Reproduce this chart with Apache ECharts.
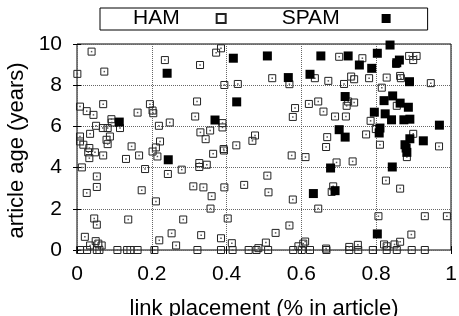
<!DOCTYPE html>
<html>
<head>
<meta charset="utf-8">
<script src="https://cdn.jsdelivr.net/npm/echarts@6/dist/echarts.min.js"></script>
<style>
html, body { margin: 0; padding: 0; background: #fff; }
#chart { width: 459px; height: 316px; }
</style>
</head>
<body>
<div id="chart"></div>
<script>
// link placement (fraction of article) vs article age (years)
var hamPoints = [
    [0.039, 9.63], [0.235, 9.22], [0.001, 8.55], [0.073, 8.66], [0.329, 8.98],
    [0.070, 7.08], [0.195, 7.08], [0.008, 6.96], [0.026, 6.74], [0.044, 6.56],
    [0.162, 6.67], [0.202, 6.77], [0.204, 6.64], [0.321, 7.21], [0.316, 6.48],
    [0.092, 6.35], [0.093, 6.19], [0.115, 5.92], [0.051, 6.03], [0.069, 5.92],
    [0.082, 5.92], [0.035, 5.64], [0.008, 5.51], [0.088, 5.51], [0.079, 5.35],
    [0.082, 5.14], [0.219, 6.03], [0.248, 6.19], [0.222, 5.27], [0.211, 4.98],
    [0.146, 5.03], [0.008, 5.27], [0.017, 5.11], [0.033, 4.95], [0.330, 5.71],
    [0.385, 9.79], [0.372, 9.58], [0.522, 8.34], [0.568, 8.05], [0.636, 8.34],
    [0.394, 8.01], [0.430, 8.06], [0.583, 6.89], [0.620, 7.09], [0.645, 7.21],
    [0.577, 6.46], [0.389, 6.16], [0.389, 5.95], [0.356, 5.80], [0.344, 5.38],
    [0.476, 5.56], [0.469, 5.30], [0.426, 5.08], [0.392, 4.90], [0.701, 9.38],
    [0.763, 9.31], [0.853, 9.03], [0.888, 9.42], [0.908, 9.42], [0.899, 9.22],
    [0.733, 8.42], [0.741, 8.29], [0.781, 8.34], [0.828, 8.37], [0.864, 8.45],
    [0.866, 8.34], [0.672, 8.21], [0.714, 8.06], [0.815, 7.88], [0.946, 8.10],
    [0.725, 7.21], [0.741, 7.16], [0.721, 7.00], [0.855, 7.00], [0.659, 6.72],
    [0.690, 6.48], [0.719, 6.48], [0.785, 6.27], [0.799, 5.87], [0.773, 5.61],
    [0.669, 5.48], [0.899, 5.64], [0.810, 5.11], [0.968, 5.03], [0.666, 5.00],
    [0.030, 4.74], [0.033, 4.46], [0.048, 4.74], [0.070, 4.59], [0.131, 4.42],
    [0.166, 4.59], [0.202, 4.78], [0.215, 4.54], [0.013, 4.01], [0.182, 3.93],
    [0.280, 3.90], [0.243, 3.69], [0.053, 3.57], [0.053, 3.06], [0.026, 2.77],
    [0.173, 2.90], [0.311, 3.09], [0.211, 2.36], [0.046, 1.53], [0.053, 1.23],
    [0.137, 1.48], [0.284, 1.48], [0.021, 0.64], [0.050, 0.43], [0.057, 0.31],
    [0.066, 0.22], [0.035, 0.22], [0.253, 0.81], [0.220, 0.47], [0.265, 0.22],
    [0.327, 4.22], [0.327, 4.03], [0.347, 4.14], [0.393, 4.83], [0.364, 4.67],
    [0.574, 4.59], [0.611, 4.51], [0.509, 3.61], [0.338, 3.04], [0.394, 3.04],
    [0.447, 3.16], [0.360, 2.61], [0.512, 2.80], [0.577, 2.45], [0.357, 2.01],
    [0.645, 2.01], [0.403, 1.53], [0.568, 1.19], [0.531, 0.83], [0.332, 0.72],
    [0.385, 0.57], [0.414, 0.33], [0.505, 0.36], [0.610, 0.41], [0.605, 0.31],
    [0.592, 0.18], [0.485, 0.09], [0.882, 4.51], [0.694, 4.25], [0.737, 4.30],
    [0.826, 3.37], [0.864, 2.98], [0.685, 3.09], [0.681, 2.82], [0.806, 1.64],
    [0.930, 1.64], [0.989, 1.64], [0.894, 0.75], [0.751, 0.25], [0.728, 0.15],
    [0.821, 0.27], [0.828, 0.18], [0.849, 0.27], [0.864, 0.40], [0.666, 0.07],
    [0.008, 0], [0.027, 0], [0.053, 0], [0.060, 0], [0.108, 0],
    [0.134, 0], [0.143, 0], [0.162, 0], [0.207, 0], [0.322, 0],
    [0.385, 0], [0.416, 0], [0.459, 0], [0.480, 0], [0.511, 0],
    [0.578, 0], [0.601, 0], [0.623, 0], [0.667, 0], [0.728, 0],
    [0.752, 0], [0.791, 0], [0.828, 0], [0.855, 0], [0.895, 0],
    [0.930, 0]
];

var spamPoints = [
    [0.241, 8.58], [0.113, 6.21], [0.418, 9.31], [0.509, 9.42], [0.652, 9.42],
    [0.565, 8.37], [0.623, 8.53], [0.427, 7.19], [0.369, 6.31], [0.837, 9.95],
    [0.725, 9.42], [0.803, 9.55], [0.755, 8.98], [0.788, 8.82], [0.862, 9.22],
    [0.855, 9.09], [0.889, 8.17], [0.717, 7.45], [0.821, 7.25], [0.844, 7.48],
    [0.864, 7.13], [0.886, 6.93], [0.795, 6.69], [0.824, 6.61], [0.841, 6.32],
    [0.874, 6.32], [0.890, 6.35], [0.969, 6.06], [0.810, 5.92], [0.808, 5.68],
    [0.701, 5.84], [0.717, 5.48], [0.890, 5.40], [0.926, 5.30], [0.877, 5.11],
    [0.880, 4.95], [0.882, 4.74], [0.244, 4.38], [0.678, 3.98], [0.843, 4.03],
    [0.690, 2.88], [0.632, 2.74], [0.803, 0.78]
];

var xRange = [0, 1, 0.2];
var yRange = [0, 10, 2];

var myChart = echarts.init(document.getElementById('chart'));
var font = '"Liberation Sans", Arial, Helvetica, sans-serif';
var tickStyle = {inside: true, length: 4, lineStyle: {color: '#000'}};
var gridLine = {lineStyle: {color: '#666', type: 'dotted', width: 1}};

function mirrorAxis(range, pos) {
    return {
        type: 'value', position: pos,
        min: range[0], max: range[1], interval: range[2],
        axisLine: {show: false},
        axisTick: tickStyle,
        axisLabel: {show: false},
        splitLine: {show: false}
    };
}

option = {
    animation: false,
    textStyle: {fontFamily: font},
    legend: {
        data: ['HAM', 'SPAM'],
        left: 100,
        top: 8,
        padding: [0, 37, 1, 33],
        itemGap: 55,
        itemWidth: 9,
        itemHeight: 9,
        align: 'right',
        borderColor: '#000',
        borderWidth: 1,
        borderRadius: 0,
        formatter: function (name) {
            return name === 'HAM' ? '{h|HAM}' : '{s|SPAM}';
        },
        textStyle: {
            fontFamily: font, fontSize: 21, color: '#000',
            rich: {
                h: {fontFamily: font, fontSize: 21, lineHeight: 20, color: '#000', padding: [0, 32, 0, 0]},
                s: {fontFamily: font, fontSize: 21, lineHeight: 20, color: '#000', padding: [0, 37, 0, 0]}
            }
        }
    },
    grid: {
        left: 77, right: 8, top: 44, bottom: 66,
        containLabel: false,
        outerBoundsMode: 'none',
        show: true, borderColor: '#000', borderWidth: 1
    },
    xAxis: [{
        type: 'value',
        min: xRange[0], max: xRange[1], interval: xRange[2],
        name: 'link placement (% in article)',
        nameLocation: 'middle',
        nameGap: 48,
        nameTextStyle: {fontFamily: font, fontSize: 22, color: '#000'},
        axisLine: {show: false},
        axisTick: tickStyle,
        axisLabel: {fontFamily: font, fontSize: 21, color: '#000', margin: 14},
        splitLine: gridLine
    }, mirrorAxis(xRange, 'top')],
    yAxis: [{
        type: 'value',
        min: yRange[0], max: yRange[1], interval: yRange[2],
        name: 'article age (years)',
        nameLocation: 'middle',
        nameGap: 44,
        nameTextStyle: {fontFamily: font, fontSize: 22, color: '#000', padding: [0, 7, 0, 0]},
        axisLine: {show: false},
        axisTick: tickStyle,
        axisLabel: {fontFamily: font, fontSize: 21, color: '#000', margin: 15},
        splitLine: gridLine
    }, mirrorAxis(yRange, 'right')],
    series: [{
        name: 'HAM',
        type: 'scatter',
        data: hamPoints,
        symbol: 'rect',
        symbolSize: 7,
        itemStyle: {color: 'rgba(0,0,0,0)', borderColor: '#222', borderWidth: 1, opacity: 1}
    }, {
        name: 'HAM centre',
        type: 'scatter',
        data: hamPoints,
        symbol: 'rect',
        symbolSize: 1.5,
        silent: true,
        itemStyle: {color: '#555', opacity: 1}
    }, {
        name: 'SPAM',
        type: 'scatter',
        data: spamPoints,
        symbol: 'rect',
        symbolSize: 9,
        itemStyle: {color: '#000', opacity: 1}
    }]
};

myChart.setOption(option);
</script>
</body>
</html>
